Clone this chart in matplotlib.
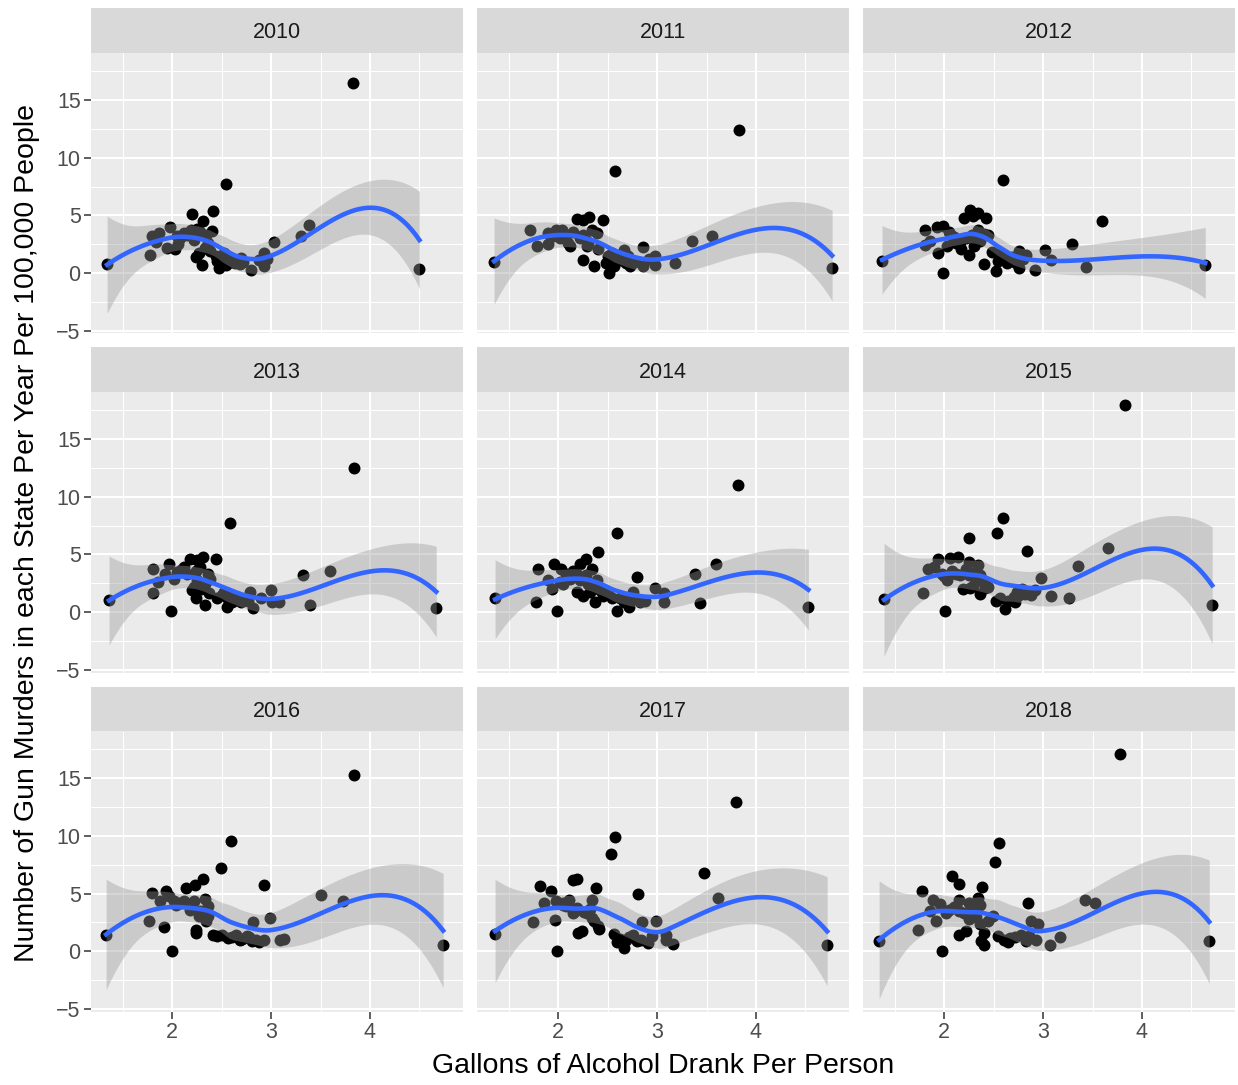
import numpy as np
import matplotlib
matplotlib.use("Agg")
import matplotlib.pyplot as plt
from matplotlib.ticker import MultipleLocator

plt.rcParams['font.family'] = ['Liberation Sans', 'DejaVu Sans']

# gallons of alcohol per person (x) and gun murders per 100,000 (y), one pair per year
# (the tail of each list holds points that sit hidden inside the dense clusters)
alc_2010 = [1.34, 3.83, 4.50, 2.545, 2.41, 2.20, 2.31, 2.40, 1.98, 1.87, 1.79, 1.83, 1.77, 1.95, 2.03, 2.08,
            2.19, 2.25, 2.34, 2.36, 2.27, 2.24, 2.30, 2.45, 2.47, 2.54, 2.52, 2.49, 2.61, 2.69, 2.68, 2.80,
            2.93, 2.96, 2.93, 3.03, 3.30, 3.38, 2.15, 2.06,
            2.12, 2.22, 2.28, 2.33, 2.38, 2.44, 2.58, 2.63, 2.72, 2.88, 2.05]
gun_2010 = [0.81, 16.47, 0.35, 7.75, 5.40, 5.09, 4.54, 3.67, 3.96, 3.47, 3.24, 2.66, 1.53, 2.17, 2.08, 3.03,
            3.76, 3.84, 3.32, 2.60, 1.73, 1.39, 0.66, 1.01, 0.43, 0.72, 1.73, 1.45, 1.16, 1.30, 0.81, 0.29,
            1.73, 1.21, 0.58, 2.69, 3.18, 4.19, 3.30, 2.50,
            3.5, 2.9, 3.6, 2.2, 1.9, 1.5, 1.0, 0.9, 1.0, 1.1, 3.2]

alc_2011 = [1.35, 3.83, 4.77, 2.57, 2.19, 2.25, 2.31, 2.45, 1.71, 1.90, 1.98, 2.04, 2.02, 2.10, 2.12, 1.90,
            1.78, 2.25, 2.34, 2.39, 2.30, 2.29, 2.25, 2.36, 2.48, 2.51, 2.54, 2.56, 2.66, 2.63, 2.70, 2.73,
            2.86, 2.86, 2.98, 2.98, 3.18, 3.35, 3.55,
            2.08, 2.15, 2.22, 2.28, 2.40, 2.50, 2.58, 2.62, 2.68, 2.78, 2.92, 1.95]
gun_2011 = [0.92, 12.43, 0.43, 8.82, 4.71, 4.62, 4.83, 4.62, 3.76, 3.47, 3.76, 3.76, 3.03, 2.60, 2.31, 2.51,
            2.31, 3.32, 3.76, 3.47, 2.60, 2.31, 1.16, 0.58, 0.87, 0.00, 1.73, 0.58, 2.02, 1.16, 1.45, 0.58,
            2.25, 0.58, 1.45, 0.66, 0.87, 2.80, 3.18,
            3.3, 3.6, 3.0, 2.9, 2.1, 1.5, 1.2, 1.5, 0.9, 1.0, 1.2, 3.2]

alc_2012 = [1.37, 4.64, 2.59, 3.60, 2.26, 2.20, 2.29, 2.42, 2.34, 1.80, 1.93, 1.99, 1.85, 1.80, 2.08, 2.12,
            2.03, 1.94, 1.99, 2.17, 2.25, 2.30, 2.34, 2.44, 2.40, 2.52, 2.56, 2.54, 2.63, 2.76, 2.76, 2.83,
            2.71, 2.92, 3.02, 3.08, 3.29, 3.43,
            2.10, 2.16, 2.22, 2.28, 2.36, 2.48, 2.58, 2.62, 2.68, 2.73, 2.80, 2.05, 2.40]
gun_2012 = [1.01, 0.66, 8.06, 4.48, 5.49, 4.77, 4.91, 4.77, 5.20, 3.70, 3.99, 4.05, 2.75, 2.46, 3.24, 2.60,
            2.31, 1.73, 0.00, 2.08, 1.59, 2.31, 3.76, 3.32, 0.81, 0.14, 1.73, 1.01, 0.87, 1.88, 0.43, 1.59,
            1.30, 0.29, 1.97, 1.10, 2.54, 0.52,
            3.1, 2.7, 3.0, 3.3, 2.8, 1.8, 1.3, 1.1, 1.4, 0.9, 1.2, 3.6, 3.4]

alc_2013 = [1.36, 3.84, 4.67, 2.58, 2.18, 2.25, 2.31, 2.44, 1.80, 1.97, 2.09, 1.93, 2.02, 1.86, 1.80, 2.24,
            2.36, 2.25, 2.20, 2.29, 2.37, 2.24, 2.33, 1.99, 2.52, 2.56, 2.55, 2.66, 2.69, 2.79, 2.82, 2.77,
            3.00, 3.01, 3.08, 3.32, 3.39, 3.60,
            2.05, 2.15, 2.28, 2.33, 2.45, 2.60, 2.62, 2.73, 2.90, 2.22, 2.38, 2.12, 2.50]
gun_2013 = [1.07, 12.49, 0.38, 7.75, 4.57, 4.48, 4.77, 4.57, 3.76, 4.19, 3.67, 3.32, 2.89, 2.60, 1.65, 3.61,
            3.32, 2.75, 1.88, 2.02, 1.65, 1.24, 0.58, 0.06, 1.73, 1.16, 0.43, 1.30, 0.87, 1.79, 0.35, 1.01,
            1.88, 0.87, 0.87, 3.24, 0.58, 3.61,
            3.5, 3.3, 3.9, 2.4, 1.2, 0.9, 1.4, 1.1, 1.2, 2.2, 2.9, 3.9, 1.5]

alc_2014 = [1.36, 3.82, 4.53, 2.59, 2.40, 2.28, 2.22, 1.79, 1.96, 2.03, 2.15, 2.34, 1.90, 1.94, 2.05, 2.22,
            2.39, 2.19, 2.25, 2.32, 2.37, 1.77, 1.99, 2.54, 2.59, 2.80, 2.76, 2.71, 2.71, 2.83, 2.98, 3.07,
            3.07, 3.38, 3.43, 3.60,
            2.08, 2.12, 2.18, 2.28, 2.30, 2.35, 2.45, 2.50, 2.62, 2.66, 2.74, 2.78, 2.88, 2.02, 2.42]
gun_2014 = [1.24, 11.04, 0.43, 6.88, 5.20, 4.62, 4.19, 3.76, 4.19, 3.76, 3.61, 3.76, 2.75, 1.97, 2.46, 2.75,
            2.75, 1.73, 1.39, 1.73, 0.87, 0.87, 0.06, 1.21, 0.06, 3.03, 1.73, 1.01, 0.43, 0.87, 2.08, 1.65,
            0.92, 3.32, 0.81, 4.19,
            3.3, 2.9, 3.4, 3.2, 2.4, 2.3, 1.4, 1.6, 1.2, 0.9, 1.3, 1.1, 1.0, 2.6, 1.9]

alc_2015 = [1.39, 3.83, 4.71, 2.59, 2.53, 2.25, 2.84, 1.94, 2.06, 2.14, 2.25, 2.34, 1.83, 1.90, 1.98, 2.12,
            2.03, 2.25, 2.36, 2.19, 2.29, 2.36, 2.41, 1.78, 2.01, 2.52, 2.61, 2.71, 2.74, 2.79, 2.88, 2.98,
            3.08, 3.26, 3.35, 3.66,
            2.08, 2.16, 2.22, 2.28, 2.32, 2.40, 2.44, 2.56, 2.64, 2.70, 2.76, 2.82, 2.92, 2.00, 2.26]
gun_2015 = [1.16, 17.92, 0.58, 8.15, 6.88, 6.42, 5.29, 4.62, 4.68, 4.77, 4.34, 4.05, 3.76, 3.90, 3.32, 3.32,
            2.75, 3.18, 3.18, 2.02, 2.31, 1.59, 2.08, 1.68, 0.06, 1.01, 0.29, 0.87, 1.73, 2.02, 1.45, 2.95,
            1.39, 1.21, 3.99, 5.58,
            3.6, 3.2, 3.7, 3.4, 2.8, 2.5, 2.2, 1.2, 1.0, 1.3, 1.5, 1.6, 1.9, 3.1, 2.1]

alc_2016 = [1.33, 3.84, 4.74, 2.59, 2.49, 2.31, 2.23, 2.14, 2.93, 1.79, 1.94, 1.88, 1.97, 2.04, 2.12, 2.22,
            2.33, 2.36, 2.27, 2.36, 1.76, 1.92, 2.24, 2.24, 2.00, 2.41, 2.45, 2.56, 2.64, 2.68, 2.76, 2.81,
            2.88, 2.82, 2.93, 2.99, 3.09, 3.13, 3.50, 3.73,
            2.08, 2.18, 2.28, 2.30, 2.34, 2.50, 2.60, 2.70, 2.78, 2.85, 2.02]
gun_2016 = [1.39, 15.32, 0.58, 9.54, 7.23, 6.27, 5.72, 5.49, 5.78, 5.06, 5.20, 4.39, 4.77, 4.05, 4.34, 4.39,
            4.54, 3.90, 3.03, 3.03, 2.60, 2.08, 1.88, 1.59, 0.06, 1.45, 1.30, 1.16, 1.39, 1.01, 1.30, 0.87,
            0.81, 2.51, 1.01, 2.89, 1.01, 1.10, 4.86, 4.34,
            4.2, 3.6, 3.5, 3.1, 2.6, 1.4, 1.2, 1.1, 1.2, 1.0, 4.4]

alc_2017 = [1.36, 3.80, 4.72, 2.57, 2.53, 3.47, 2.81, 2.15, 2.19, 1.81, 1.93, 2.38, 1.86, 1.98, 2.11, 2.34,
            2.05, 2.19, 2.15, 2.29, 2.34, 2.36, 1.74, 1.97, 2.41, 2.20, 2.24, 1.99, 2.56, 2.59, 2.66, 2.68,
            2.76, 2.84, 2.91, 2.85, 2.99, 3.09, 3.09, 3.16, 3.62,
            2.08, 2.17, 2.26, 2.32, 2.40, 2.62, 2.72, 2.80, 2.95, 2.05]
gun_2017 = [1.53, 12.98, 0.52, 9.88, 8.44, 6.79, 5.00, 6.21, 6.30, 5.64, 5.26, 5.49, 4.19, 4.34, 4.48, 4.48,
            4.05, 3.76, 3.32, 3.32, 2.89, 2.60, 2.51, 2.69, 1.97, 1.59, 1.73, 0.06, 1.50, 0.81, 0.29, 1.01,
            1.45, 1.01, 0.72, 2.54, 2.60, 1.45, 1.01, 0.66, 4.62,
            3.9, 3.5, 3.4, 3.7, 2.2, 1.1, 1.2, 0.9, 1.3, 4.2]

alc_2018 = [1.34, 3.78, 4.68, 2.55, 2.51, 2.08, 2.15, 2.38, 2.85, 1.77, 1.89, 1.96, 1.85, 1.92, 2.02, 2.15,
            2.15, 2.25, 2.34, 2.36, 2.25, 2.36, 2.49, 1.73, 1.98, 2.22, 2.15, 2.40, 2.37, 2.40, 2.54, 2.64,
            2.66, 2.78, 2.83, 2.88, 2.95, 2.93, 3.07, 3.17, 3.42, 3.52,
            2.10, 2.20, 2.28, 2.32, 2.44, 2.60, 2.72, 2.86, 2.05]
gun_2018 = [0.87, 17.14, 0.87, 9.39, 7.75, 6.50, 5.84, 5.58, 4.19, 5.20, 4.48, 4.10, 3.47, 2.66, 3.32, 4.48,
            3.47, 4.19, 4.62, 4.05, 2.83, 2.37, 3.03, 1.88, 0.06, 1.73, 1.39, 1.59, 0.87, 0.58, 1.30, 0.81,
            1.16, 1.45, 0.87, 2.66, 2.37, 1.01, 0.52, 1.21, 4.48, 4.19,
            3.8, 3.3, 3.6, 3.0, 2.6, 1.0, 1.2, 1.3, 3.6]

years = [2010, 2011, 2012, 2013, 2014, 2015, 2016, 2017, 2018]
alcohol = [alc_2010, alc_2011, alc_2012, alc_2013, alc_2014, alc_2015, alc_2016, alc_2017, alc_2018]
murders = [gun_2010, gun_2011, gun_2012, gun_2013, gun_2014, gun_2015, gun_2016, gun_2017, gun_2018]


def local_rows(x, x0, q):
    # operator rows giving the local quadratic's value and slope at x0 (tricube weights)
    n = len(x)
    d = np.abs(x - x0)
    h = np.sort(d)[q - 1]
    u = d / h
    w = np.where(u < 1, (1 - u ** 3) ** 3, 0.0)
    X = np.column_stack([np.ones(n), x - x0, (x - x0) ** 2])
    A = X.T @ (w[:, None] * X)
    B = np.linalg.solve(A, X.T * w)
    return B[0], B[1]


def kd_vertices(x, fc):
    # 1-d version of loess' kd-tree: split cells at the median until <= fc points
    xs = np.sort(x)
    lo, hi = xs[0], xs[-1]
    mu = 0.005 * (hi - lo)
    verts = [lo - mu, hi + mu]
    cells = [(0, len(xs) - 1, lo - mu, hi + mu)]
    while cells:
        l, u, vlo, vhi = cells.pop()
        if u - l + 1 <= fc:
            continue
        m = (l + u) // 2
        t = xs[m]
        if t == vlo or t == vhi:
            continue
        verts.append(t)
        cells.append((l, m, vlo, t))
        cells.append((m + 1, u, t, vhi))
    return np.unique(verts)


def loess_fit(x, y, xnew, span=0.75, cell=0.2):
    # loess with kd-tree vertices and cubic Hermite interpolation (R's default surface)
    x = np.asarray(x, float)
    y = np.asarray(y, float)
    n = len(x)
    q = int(np.floor(n * span))
    fc = int(np.floor(n * span * cell))
    verts = kd_vertices(x, fc)
    rows = [local_rows(x, v, q) for v in verts]
    val = np.array([r[0] for r in rows])
    slo = np.array([r[1] for r in rows])

    def interp(pts):
        out = np.zeros((len(pts), n))
        for k, p in enumerate(pts):
            j = np.clip(np.searchsorted(verts, p) - 1, 0, len(verts) - 2)
            v0, v1 = verts[j], verts[j + 1]
            hh = v1 - v0
            t = (p - v0) / hh
            h00 = 2 * t ** 3 - 3 * t ** 2 + 1
            h10 = t ** 3 - 2 * t ** 2 + t
            h01 = -2 * t ** 3 + 3 * t ** 2
            h11 = t ** 3 - t ** 2
            out[k] = h00 * val[j] + h10 * hh * slo[j] + h01 * val[j + 1] + h11 * hh * slo[j + 1]
        return out

    L = interp(x)
    Ln = interp(xnew)
    R = np.eye(n) - L
    M = R.T @ R
    d1 = np.trace(M)
    d2 = np.trace(M @ M)
    sigma = np.sqrt(np.sum((R @ y) ** 2) / d1)
    se = sigma * np.sqrt(np.sum(Ln ** 2, axis=1))
    df = d1 ** 2 / d2
    z = 1.959964
    tq = z + (z ** 3 + z) / (4 * df) + (5 * z ** 5 + 16 * z ** 3 + 3 * z) / (96 * df ** 2)
    fit = Ln @ y
    return fit, fit - tq * se, fit + tq * se


W, H = 1238, 1085
col_left = [90.7, 476.7, 862.7]
panel_w = 372.0
strip_h = 45.0
panel_h = 280.1
row_top = [8.3, 347.4, 686.5]


def rect(x, top, w, h):
    return [x / W, 1 - (top + h) / H, w / W, h / H]


fig = plt.figure(figsize=(W / 100, H / 100), dpi=100)
fig.patch.set_facecolor('white')

for i, (yr, xa, ya) in enumerate(zip(years, alcohol, murders)):
    r, c = divmod(i, 3)
    sax = fig.add_axes(rect(col_left[c], row_top[r], panel_w, strip_h))
    sax.set_facecolor('#D9D9D9')
    sax.set_xticks([])
    sax.set_yticks([])
    for s in sax.spines.values():
        s.set_visible(False)
    sax.text(0.5, 0.33, str(yr), ha='center', va='baseline', fontsize=15.5, color='#1A1A1A',
             transform=sax.transAxes)

    ax = fig.add_axes(rect(col_left[c], row_top[r] + strip_h, panel_w, panel_h))
    ax.set_facecolor('#EBEBEB')
    for s in ax.spines.values():
        s.set_visible(False)
    ax.set_xlim(1.174, 4.938)
    ax.set_ylim(-5.23, 19.05)
    ax.xaxis.set_major_locator(MultipleLocator(1))
    ax.xaxis.set_minor_locator(MultipleLocator(0.5))
    ax.set_yticks([-5, 0, 5, 10, 15])
    ax.yaxis.set_minor_locator(MultipleLocator(2.5))
    ax.grid(which='major', color='white', linewidth=1.5)
    ax.grid(which='minor', color='white', linewidth=0.75)
    ax.set_axisbelow(True)
    ax.tick_params(which='minor', length=0)
    ax.tick_params(which='major', length=4.7, width=1.1, color='#333333',
                   labelsize=15.5, labelcolor='#4D4D4D', pad=2.5)
    if r < 2:
        ax.tick_params(axis='x', which='major', length=0, labelbottom=False)
    if c > 0:
        ax.tick_params(axis='y', which='major', length=0, labelleft=False)

    ax.scatter(xa, ya, s=74, color='black', linewidths=0, zorder=2)
    xs = np.linspace(min(xa), max(xa), 80)
    fit, lo, hi = loess_fit(xa, ya, xs)
    ax.fill_between(xs, lo, hi, color='#999999', alpha=0.4, linewidth=0, zorder=3)
    ax.plot(xs, fit, color='#3366FF', linewidth=3.3, zorder=4)

fig.text(662.7 / W, 1 - 1066 / H, 'Gallons of Alcohol Drank Per Person', ha='center', va='center',
         fontsize=20.5, color='black')
fig.text(27 / W, 1 - 532.5 / H, 'Number of Gun Murders in each State Per Year Per 100,000 People',
         ha='center', va='center', rotation=90, fontsize=20.5, color='black')

fig.savefig('out.png', dpi=100)
